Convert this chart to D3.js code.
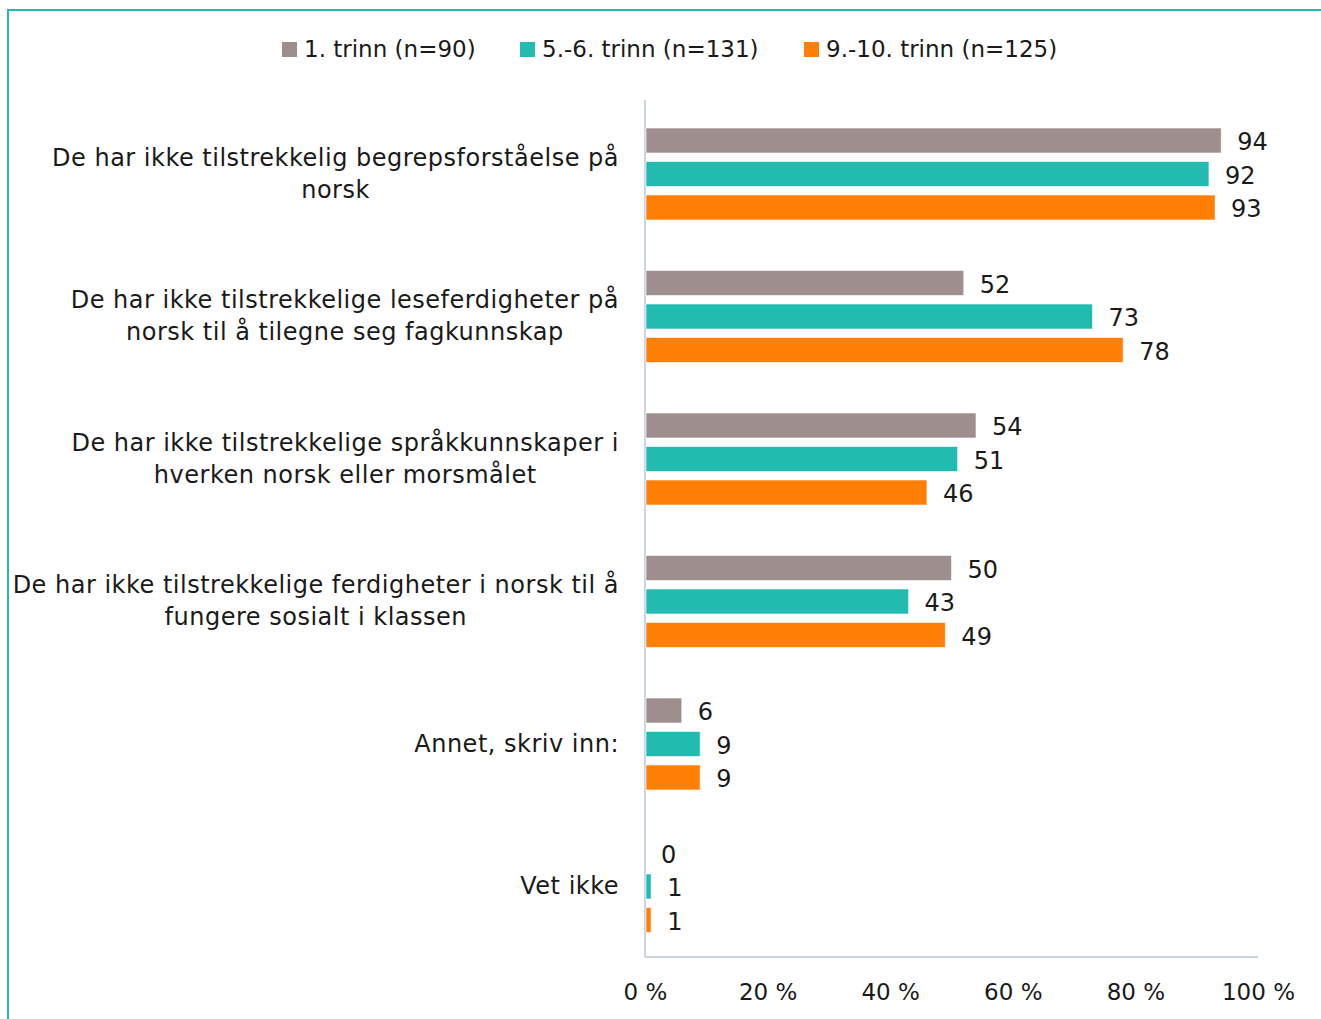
<!DOCTYPE html>
<html><head><meta charset="utf-8">
<script src="https://cdn.jsdelivr.net/npm/d3@7"></script>
<style>body{margin:0;background:#fff}svg{display:block}text{font-family:"DejaVu Sans",sans-serif;fill:#1a1a1a}</style>
</head><body><svg id="c" width="1321" height="1019"></svg>
<script>
const categories = [
  ["De har ikke tilstrekkelig begrepsforståelse på","norsk"],
  ["De har ikke tilstrekkelige leseferdigheter på","norsk til å tilegne seg fagkunnskap"],
  ["De har ikke tilstrekkelige språkkunnskaper i","hverken norsk eller morsmålet"],
  ["De har ikke tilstrekkelige ferdigheter i norsk til å","fungere sosialt i klassen"],
  ["Annet, skriv inn:"],
  ["Vet ikke"]
];
const seriesNames = ["1. trinn (n=90)","5.-6. trinn (n=131)","9.-10. trinn (n=125)"];
const trinn1 = [94,52,54,50,6,0];
const trinn56 = [92,73,51,43,9,1];
const trinn910 = [93,78,46,49,9,1];
const colors = ["#9e8f8e","#21bbb0","#ff7f07"];
const xTicks = [0,20,40,60,80,100];
const series = [trinn1,trinn56,trinn910];

const svg = d3.select("#c");
// frame
svg.append("line").attr("x1",8).attr("x2",8).attr("y1",9).attr("y2",1019).attr("stroke","#21bbb0").attr("stroke-width",2);
svg.append("line").attr("x1",7).attr("x2",1321).attr("y1",10).attr("y2",10).attr("stroke","#21bbb0").attr("stroke-width",2);

const x = d3.scaleLinear().domain([0,100]).range([645,1258]);
const y0 = d3.scaleBand().domain(d3.range(categories.length)).range([100,955]);
const y1 = d3.scaleBand().domain(d3.range(3)).range([0,92]).paddingInner(0.254).paddingOuter(0);
const off = 28;

// axes lines
svg.append("line").attr("x1",645).attr("x2",645).attr("y1",100).attr("y2",957).attr("stroke","#c9d5e6").attr("stroke-width",2);
svg.append("line").attr("x1",645).attr("x2",1258).attr("y1",957).attr("y2",957).attr("stroke","#c9d5e6").attr("stroke-width",2);

const ax = svg.append("g").attr("transform","translate(0,957)")
  .call(d3.axisBottom(x).tickValues(xTicks).tickFormat(d=>d+" %").tickSize(0).tickPadding(27));
ax.select(".domain").remove();
ax.selectAll("text").style("font-size","23px").attr("fill","#1a1a1a").style("font-family","DejaVu Sans, sans-serif");

series.forEach((vals,si)=>{
  const g = svg.append("g");
  vals.forEach((v,ci)=>{
    const yy = y0(ci)+off+y1(si);
    g.append("rect").attr("x",x(0)+1).attr("y",yy).attr("width",Math.max(0,x(v)-x(0)-1)).attr("height",y1.bandwidth())
      .attr("fill",colors[si]).attr("stroke","rgba(255,255,255,0.6)").attr("stroke-width",1);
    g.append("text").attr("x",x(v)+16).attr("y",yy+y1.bandwidth()/2+1).attr("dy","0.36em")
      .style("font-size","24px").text(v);
  });
});

// category labels
categories.forEach((lines,ci)=>{
  const cy = y0(ci)+off+45;
  const t = svg.append("text").attr("text-anchor","end").style("font-size","24px").style("letter-spacing","0.5px");
  const n = lines.length;
  lines.forEach((ln,li)=>{
    t.append("tspan").attr("x",619).attr("y",cy+(li-(n-1)/2)*32).attr("dy","0.36em").text(ln);
  });
  if(n>1){
    const tsp = t.selectAll("tspan").nodes();
    const w0 = tsp[0].getComputedTextLength();
    d3.select(tsp[1]).attr("text-anchor","middle").attr("x",619 - w0/2);
  }
});

// legend
const legX = [282,520,804];
seriesNames.forEach((nm,i)=>{
  svg.append("rect").attr("x",legX[i]).attr("y",42).attr("width",15).attr("height",15).attr("fill",colors[i]);
  svg.append("text").attr("x",legX[i]+22).attr("y",49).attr("dy","0.36em").style("font-size","23px").text(nm);
});
</script></body></html>
